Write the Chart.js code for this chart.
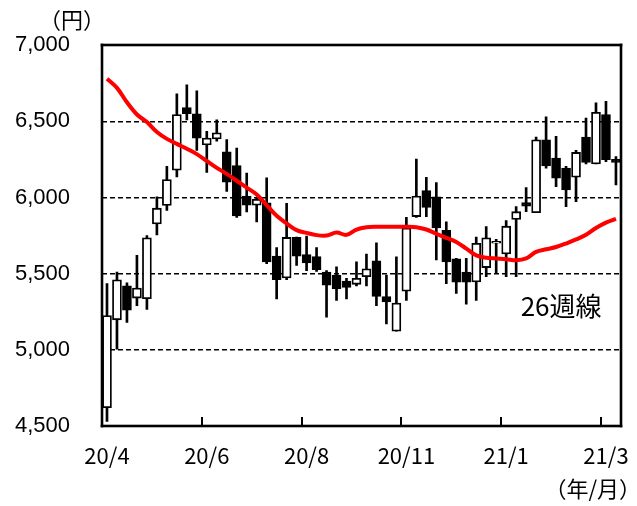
<!DOCTYPE html>
<html><head><meta charset="utf-8">
<script src="https://cdn.jsdelivr.net/npm/chart.js@4.4.1/dist/chart.umd.min.js"></script>
<style>html,body{margin:0;padding:0;background:#fff;}#wrap{width:637px;height:506px;}</style>
</head><body><div id="wrap"><canvas id="c" width="637" height="506"></canvas></div>
<script>
// weekly candles (index 0..51)
const openP  = [4620,5197,5420,5340,5336,5826,5948,6180,6590,6550,6345,6385,6300,6210,6010,5950,5965,5615,5472,5738,5625,5612,5510,5490,5452,5430,5480,5585,5350,5122,5385,5875,6045,6005,5785,5598,5510,5446,5540,5700,5630,5856,5966,5900,6379,6259,6193,6133,6397,6221,6544,6250];
const highP  = [5435,5510,5440,5620,5750,6005,6205,6680,6740,6700,6435,6510,6380,6325,6160,6000,6130,5672,5962,5740,5747,5672,5520,5545,5470,5577,5628,5703,5490,5610,5870,6252,6133,6098,5840,5600,5600,5740,5810,5725,5848,5940,6065,6397,6529,6401,6204,6309,6522,6621,6632,6269];
const lowP   = [4530,5005,5180,5290,5265,5755,5915,6135,6510,6310,6165,6370,6040,5870,5905,5840,5565,5335,5460,5555,5520,5515,5215,5325,5335,5420,5420,5290,5170,5122,5325,5870,5875,5590,5435,5370,5300,5325,5480,5500,5480,5480,5907,5900,6193,6072,5940,5973,6220,6221,6236,6083];
const closeP = [5225,5460,5260,5405,5735,5930,6118,6545,6550,6390,6390,6425,6100,5880,5950,5988,5578,5460,5738,5615,5570,5527,5425,5400,5410,5470,5532,5350,5315,5307,5800,6010,5935,5800,5578,5445,5445,5700,5735,5712,5812,5907,5944,6379,6208,6127,6050,6296,6230,6559,6248,6230];
// 26-week moving average
const ma26   = [6780,6720,6625,6545,6495,6430,6385,6352,6320,6285,6240,6195,6155,6110,6065,6020,5950,5880,5830,5786,5768,5753,5750,5770,5755,5790,5805,5808,5808,5808,5808,5805,5790,5762,5735,5708,5665,5620,5605,5600,5595,5588,5600,5643,5660,5675,5698,5725,5755,5800,5835,5860];
const xLabels = ['20/4','20/6','20/8','20/11','21/1','21/3'];
const xLabelIdx = [0,10,20,30,40,50];
const xTickIdx = [9.5,19.5,29.5,39.5,49.5];
const yTicks = [4500,5000,5500,6000,6500,7000];
const maName = '26週線';

const wickData = openP.map((o,i)=>({x:i, y:[lowP[i], highP[i]]}));
const bodyData = openP.map((o,i)=>({x:i, y:[o, closeP[i]]}));
const bodyColors = openP.map((o,i)=> closeP[i] >= o ? '#ffffff' : '#000000');

const framePlugin = {
  id:'frame',
  beforeDraw(chart){
    const c = chart.ctx; c.save(); c.fillStyle='#fff'; c.fillRect(0,0,chart.width,chart.height); c.restore();
  },
  afterDraw(chart){
    const c = chart.ctx, a = chart.chartArea, xs = chart.scales.x, ys = chart.scales.y;
    c.save();
    c.fillStyle='#000';
    const w = 2.6, h = w/2;
    const L = Math.round(a.left), R = Math.round(a.right), T = Math.round(a.top), B = Math.round(a.bottom);
    c.fillRect(L-h, T-h, R-L+w, w);   // top
    c.fillRect(L-h, B-h, R-L+w, w);   // bottom
    c.fillRect(L-h, T-h, w, B-T+w);   // left
    c.fillRect(R-h, T-h, w, B-T+w);   // right
    xTickIdx.forEach(v=>{
      const px = Math.round(xs.getPixelForValue(v));
      c.fillRect(px-1, B-9, 2, 9);
    });
    c.font='22px "Noto Sans CJK JP"';
    c.textBaseline='middle';
    c.textAlign='center';
    c.fillText('（円）', 72, 20);
    c.textAlign='right';
    c.fillText('（年/月）', 641, 489);
    c.font='26px "Noto Sans CJK JP"';
    c.textAlign='center';
    c.fillText(maName, xs.getPixelForValue(45.5), ys.getPixelForValue(5285));
    c.restore();
  }
};

new Chart(document.getElementById('c').getContext('2d'), {
  data: { datasets: [
    {type:'line', label:maName, data: ma26.map((v,i)=>({x:i,y:v})), borderColor:'#ff0000', borderWidth:4, pointRadius:0, tension:0.35, order:1},
    {type:'bar', label:'body', data: bodyData, backgroundColor: bodyColors, borderColor:'#000', borderWidth:1.8, borderSkipped:false, barThickness:9, grouped:false, order:2},
    {type:'bar', label:'wick', data: wickData, backgroundColor:'#000', borderWidth:0, barThickness:2, grouped:false, order:3}
  ]},
  options: {
    responsive:false, animation:false, devicePixelRatio:1,
    layout:{padding:{left:0, top:45, right:14, bottom:0}},
    plugins:{legend:{display:false}, tooltip:{enabled:false}},
    scales:{
      x:{type:'linear', min:-0.5, max:51.5, offset:false,
        afterBuildTicks: s=>{ s.ticks = xLabelIdx.map(v=>({value:v})); },
        ticks:{autoSkip:false, maxRotation:0, minRotation:0, padding:8, color:'#000',
          font:{family:'"Noto Sans CJK JP"', size:22},
          callback:(v,i)=>xLabels[i]},
        grid:{display:false, offset:false}, border:{display:false},
        afterFit: s=>{ s.height = 80; }
      },
      y:{type:'linear', min:4500, max:7000,
        afterBuildTicks: s=>{ s.ticks = yTicks.map(v=>({value:v})); },
        ticks:{padding:32, color:'#000', font:{family:'"Liberation Sans"', size:22},
          callback: v=> v.toLocaleString('en-US')},
        grid:{drawTicks:false, lineWidth:1.5,
          color: ctx => (ctx.tick && (ctx.tick.value===4500 || ctx.tick.value===7000)) ? 'rgba(0,0,0,0)' : '#000'},
        border:{display:false, dash:[5,3]},
        afterFit: s=>{ s.width = 102; }
      }
    }
  },
  plugins:[framePlugin]
});
</script></body></html>
